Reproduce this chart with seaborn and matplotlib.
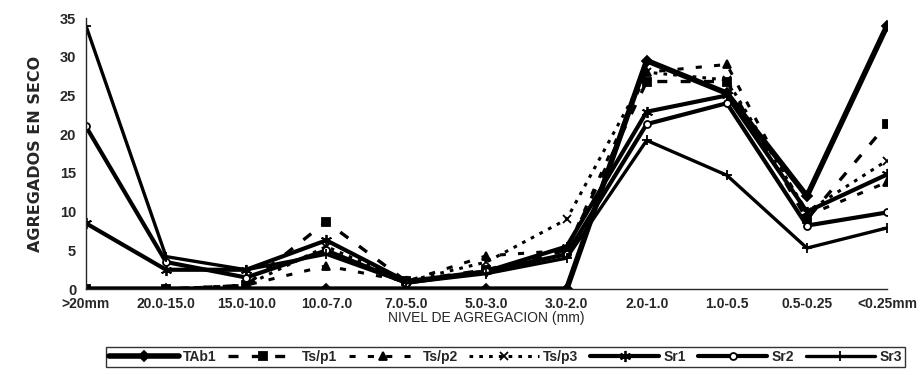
import numpy as np
import pandas as pd
import matplotlib
matplotlib.use("Agg")
import matplotlib.pyplot as plt
import seaborn as sns

# Datos
niveles = [">20mm", "20.0-15.0", "15.0-10.0", "10.0-7.0", "7.0-5.0", "5.0-3.0",
           "3.0-2.0", "2.0-1.0", "1.0-0.5", "0.5-0.25", "<0.25mm"]

tab1 = [0, 0, 0, 0, 0, 0, 0, 29.5, 25.3, 12.0, 34.0]
tsp1 = [0, 0, 0.5, 8.7, 1.0, 2.5, 5.0, 26.8, 26.8, 9.0, 21.3]
tsp2 = [0, 0, 0.5, 3.0, 1.0, 4.3, 5.0, 28.0, 29.0, 9.5, 13.8]
tsp3 = [0, 0, 0.5, 5.5, 1.0, 3.5, 9.0, 28.0, 27.0, 10.0, 16.6]
sr1 = [8.5, 2.5, 2.5, 6.3, 1.0, 2.3, 5.5, 22.9, 25.0, 10.0, 14.8]
sr2 = [21.0, 3.5, 1.5, 5.0, 0.8, 2.3, 4.5, 21.3, 24.0, 8.2, 9.9]
sr3 = [34.0, 4.2, 2.5, 4.5, 0.8, 2.0, 4.0, 19.2, 14.7, 5.3, 7.9]

series = {"TAb1": tab1, "Ts/p1": tsp1, "Ts/p2": tsp2, "Ts/p3": tsp3,
          "Sr1": sr1, "Sr2": sr2, "Sr3": sr3}

df = pd.DataFrame({"pos": np.tile(np.arange(len(niveles)), len(series)),
                   "valor": np.concatenate(list(series.values())),
                   "serie": np.repeat(list(series.keys()), len(niveles))})

estilos = {
    "TAb1":  dict(lw=4.0, ls="-",           marker="D", ms=5, mfc="black"),
    "Ts/p1": dict(lw=2.4, ls=(0, (3, 4)),   marker="s", ms=6, mfc="black"),
    "Ts/p2": dict(lw=2.2, ls=(0, (2, 4)),   marker="^", ms=6, mfc="black"),
    "Ts/p3": dict(lw=2.2, ls=(0, (1.2, 2)), marker="x", ms=6, mfc="black"),
    "Sr1":   dict(lw=3.0, ls="-",           marker=(6, 2, 0), ms=8, mfc="black"),
    "Sr2":   dict(lw=3.0, ls="-",           marker="o", ms=5, mfc="white"),
    "Sr3":   dict(lw=2.4, ls="-",           marker="+", ms=7, mfc="black"),
}

sns.set_style("white")
plt.rcParams['font.family'] = ['Liberation Sans', 'DejaVu Sans']

fig = plt.figure(figsize=(9.24, 3.75), dpi=100)
ax = fig.add_axes([0.093, 0.229, 0.867, 0.723])

for nombre in series:
    st = estilos[nombre]
    sub = df[df["serie"] == nombre]
    sns.lineplot(data=sub, x="pos", y="valor", ax=ax, color="black",
                 linewidth=st["lw"], linestyle=st["ls"], marker=st["marker"],
                 markersize=st["ms"], markerfacecolor=st["mfc"],
                 markeredgecolor="black", markeredgewidth=1.3, label=nombre)

ax.set_xlim(0, len(niveles) - 1)
ax.set_ylim(0, 35)
ax.set_yticks(range(0, 36, 5))
ax.set_xticks(range(len(niveles)))
ax.set_xticklabels(niveles, fontsize=10, fontweight="bold")
for t in ax.get_yticklabels():
    t.set_fontsize(10.5)
    t.set_fontweight("bold")
ax.tick_params(axis="both", length=3, width=0.8, direction="out", pad=4)
ax.tick_params(axis="x", pad=3)

for s in ["top", "right"]:
    ax.spines[s].set_visible(False)
ax.spines["left"].set_linewidth(1.0)
ax.spines["bottom"].set_linewidth(1.0)

ax.set_xlabel("NIVEL DE AGREGACION (mm)", fontsize=10, labelpad=0)
ax.set_ylabel("AGREGADOS EN SECO", fontsize=11.5, fontweight="bold",
              family=['Liberation Sans Narrow', 'DejaVu Sans'], labelpad=12)

ax.legend(loc="center", bbox_to_anchor=(0.547, 0.048), bbox_transform=fig.transFigure,
          ncol=7, frameon=True, fancybox=False, edgecolor="black",
          prop={"size": 10, "weight": "bold"}, handlelength=5.0,
          handletextpad=0.3, columnspacing=0.85, borderpad=0.25,
          borderaxespad=0)

fig.savefig("out.png", dpi=100)
